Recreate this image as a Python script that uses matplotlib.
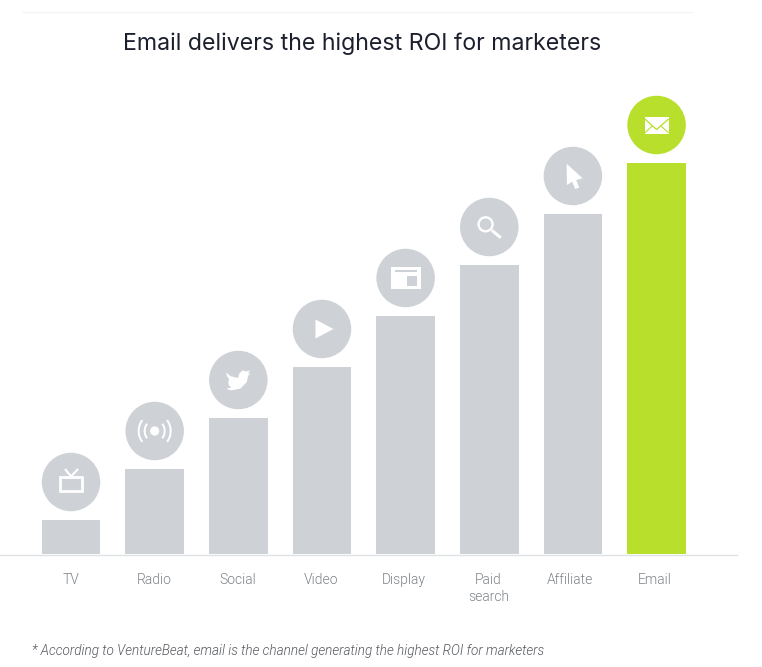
import numpy as np
import matplotlib
matplotlib.use("Agg")
import matplotlib.pyplot as plt
from matplotlib.lines import Line2D
from matplotlib.patches import Circle, Polygon, Rectangle
from matplotlib.transforms import Affine2D, ScaledTranslation

# chart data, bar heights
channels = ["TV", "Radio", "Social", "Video", "Display", "Paid\nsearch", "Affiliate", "Email"]
roi = [34, 85, 136, 187, 238, 289, 340, 391]
label_shift = [0, 0, -1, -0.5, -1.5, -1, -3, -2]

title = "Email delivers the highest ROI for marketers"
footnote = "* According to VentureBeat, email is the channel generating the highest ROI for marketers"

GREY = "#ced1d6"
GREEN = "#b9df2d"
WHITE = "#ffffff"

W, H = 762, 667
fig = plt.figure(figsize=(W / 100, H / 100), dpi=100)

# axes placed so one y unit is one pixel
x_left, x_right = 29.2, 698.4
y_base, y_top = 554, 80
ax = fig.add_axes([x_left / W, 1 - y_base / H, (x_right - x_left) / W, (y_base - y_top) / H])
ax.set_xlim(-0.5, 7.5)
ax.set_ylim(0, y_base - y_top)
for side in ax.spines.values():
    side.set_visible(False)
ax.set_yticks([])

x = np.arange(len(channels))
colors = [GREY] * 7 + [GREEN]
ax.bar(x, roi, width=0.70, color=colors, linewidth=0)
ax.scatter(x, np.array(roi) + 38, s=(58.5 * 0.72) ** 2, c=colors, linewidths=0, clip_on=False, zorder=3)

ax.set_xticks(x)
ax.set_xticklabels(channels, fontsize=10, family="Roboto", fontweight=300, color="#7f8389", linespacing=1.3)
ax.tick_params(axis="x", length=0, pad=13.5)
for lab, dx in zip(ax.get_xticklabels(), label_shift):
    lab.set_transform(lab.get_transform() + ScaledTranslation(dx / 100, 0, fig.dpi_scale_trans))


def icon_tf(i):
    # icon shapes are in pixels around the circle centre, y pointing down
    cx, cy = ax.transData.transform((i, roi[i] + 38))
    return Affine2D().scale(1, -1).translate(cx, cy)


def poly(i, pts, color=WHITE):
    ax.add_patch(Polygon(pts, closed=True, fc=color, ec="none", transform=icon_tf(i), zorder=4, clip_on=False))


def rect(i, x0, y0, w, h, fc=WHITE, ec="none", lw=0):
    ax.add_patch(Rectangle((x0, y0), w, h, fc=fc, ec=ec, lw=lw, transform=icon_tf(i), zorder=4, clip_on=False))


def line(i, xs, ys, lw=1.5, color=WHITE, z=4):
    ax.add_line(Line2D(xs, ys, lw=lw * 0.72, color=color, transform=icon_tf(i), zorder=z, clip_on=False,
                       solid_capstyle="butt", solid_joinstyle="miter"))


# TV
rect(0, -11, -4.7, 22, 14, fc="none", ec=WHITE, lw=2)
line(0, [-6, 0, 7], [-13, -5.5, -13], lw=2.2)

# Radio
ax.add_patch(Circle((0, 0), 4.6, fc=WHITE, ec="none", transform=icon_tf(1), zorder=4))
for sgn in (-1, 1):
    for rad, half in ((12, 0.65), (18, 0.65)):
        t = np.linspace(-half, half, 30)
        line(1, sgn * rad * np.cos(t) + sgn * (rad - 10 if rad == 12 else rad - 16) * -1, rad * np.sin(t), lw=2)

# Social (bird)
poly(2, [(-12, -7.5), (-8, -4), (-3, -2.5), (0, -2.2), (0.7, -6), (4, -9.5), (8, -8.5), (11.5, -9.7),
         (9.7, -6.3), (12, -7), (9.7, -4), (8.5, 2), (2, 8.7), (-7, 10.3), (-12, 9), (-7, 7.3),
         (-9.5, 5.5), (-10, 2), (-9.3, -1), (-11.5, -4)])

# Video
poly(3, [(-6.5, -9.5), (11.5, 0), (-6.5, 9.5)])

# Display
rect(4, -14.7, -11.3, 29.7, 22.3)
rect(4, -10.7, -8, 22.4, 2.3, fc=GREY)
rect(4, 1.7, -2.3, 10, 10.6, fc=GREY)

# Paid search
ax.add_patch(Circle((-3.7, -2.7), 7, fc="none", ec=WHITE, lw=1.7, transform=icon_tf(5), zorder=4))
line(5, [2.5, 11.5], [3.3, 10.7], lw=3)

# Affiliate
poly(6, [(-6.3, -12.3), (9.7, 2.3), (3.3, 4), (6.3, 11.7), (2.3, 13), (-0.7, 5.7), (-6, 9)])

# Email
rect(7, -11.7, -8.3, 23.7, 17.3)
line(7, [-11.7, 0, 12], [-6, 4.5, -6], lw=1.3, color=GREEN, z=5)
line(7, [-11.7, -4.5], [8, 1], lw=1.1, color=GREEN, z=5)
line(7, [12, 4.5], [8, 1], lw=1.1, color=GREEN, z=5)

# page rules
fig.add_artist(Line2D([0, 737 / W], [1 - (y_base + 0.5) / H] * 2, color="#dfe1e4", lw=1))
fig.add_artist(Line2D([22 / W, 692 / W], [1 - 11.5 / H] * 2, color="#f4f5f5", lw=1))

fig.text(362.5 / W, 1 - 44 / H, title, ha="center", va="center", fontsize=16.65, family="Inter", color="#1c1f2e")
fig.text(32 / W, 1 - 651 / H, footnote, ha="left", va="center", fontsize=9.72, family="Roboto", style="italic",
         fontweight=300, color="#55585e")

fig.savefig("out.png", dpi=100)
